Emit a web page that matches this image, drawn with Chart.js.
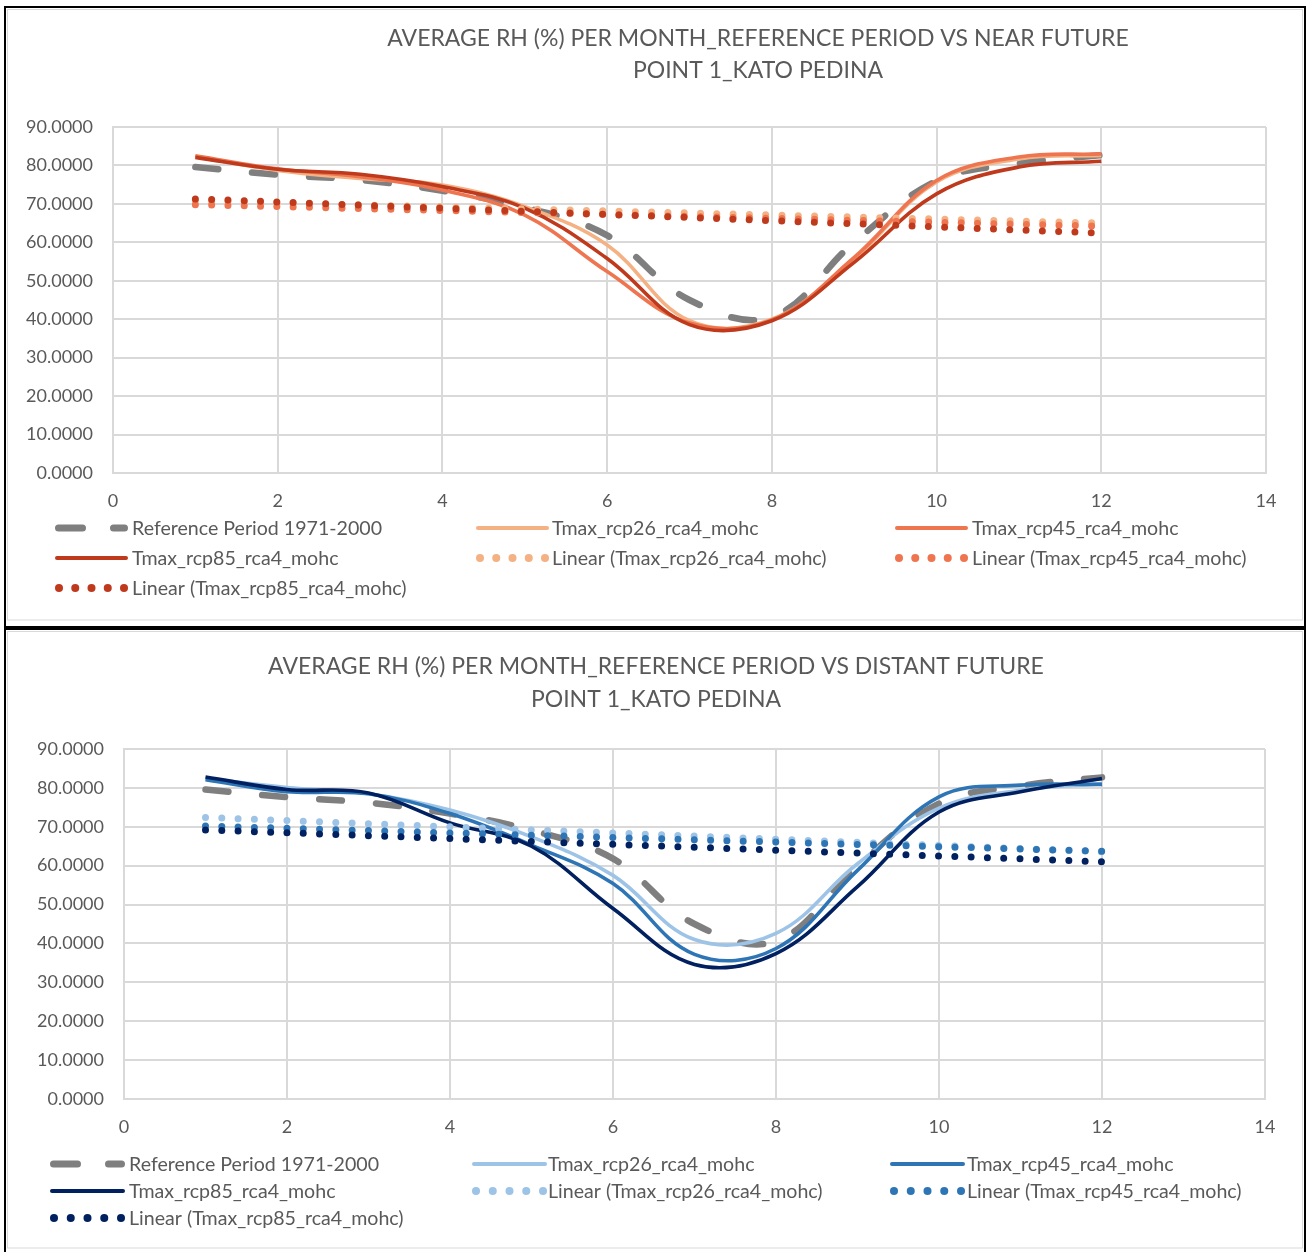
<!DOCTYPE html>
<html>
<head>
<meta charset="utf-8">
<title>Average RH per month - Point 1 Kato Pedina</title>
<script src="https://cdn.jsdelivr.net/npm/chart.js@4.4.1/dist/chart.umd.min.js"></script>
<style>
  html, body { margin: 0; padding: 0; background: #ffffff; }
  #page { position: relative; width: 1307px; height: 1252px; overflow: hidden; }
  .panel { position: absolute; left: 4px; width: 1298px; border: 2px solid #000; }
  #panelNear { top: 6px; height: 618px; }
  #panelDistant { top: 628px; height: 624px; }
  canvas { position: absolute; left: 0; top: 0; }
</style>
</head>
<body>
<div id="page">
  <div class="panel" id="panelNear"><canvas id="nearChart" width="1298" height="614"></canvas></div>
  <div class="panel" id="panelDistant"><canvas id="distantChart" width="1298" height="620"></canvas></div>
</div>
<script>
// ---- data: average relative humidity (%) per month ----
const months = [1, 2, 3, 4, 5, 6, 7, 8, 9, 10, 11, 12];
const referenceRH = [79.6, 77.6, 76.2, 73.4, 69.1, 61.8, 45.0, 40.6, 60.0, 76.0, 80.5, 82.7];

const nearRcp26 = [82.3, 78.7, 76.6, 74.9, 69.3, 59.3, 39.6, 40.0, 55.8, 75.7, 81.7, 82.6];
const nearRcp45 = [82.5, 79.1, 77.1, 73.6, 67.1, 52.4, 39.0, 39.8, 56.1, 76.1, 82.2, 83.0];
const nearRcp85 = [82.1, 79.0, 77.7, 74.5, 68.9, 55.8, 38.6, 39.6, 54.8, 72.6, 79.6, 81.1];

const distantRcp26 = [82.4, 80.1, 78.5, 74.3, 67.4, 57.5, 41.0, 42.6, 60.5, 74.8, 79.4, 81.1];
const distantRcp45 = [82.1, 79.0, 78.5, 73.4, 65.3, 55.4, 37.2, 38.7, 58.8, 77.7, 80.7, 80.9];
const distantRcp85 = [82.8, 79.6, 78.7, 71.0, 65.0, 49.0, 34.6, 37.4, 54.6, 73.8, 79.0, 82.4];

// linear trend lines: value at the first and the last month
const trendMonths = [1, 12];
const nearTrend26 = [70.8, 65.0];
const nearTrend45 = [69.8, 64.2];
const nearTrend85 = [71.3, 62.4];
const distantTrend26 = [72.4, 63.6];
const distantTrend45 = [70.2, 63.7];
const distantTrend85 = [69.2, 61.0];

// axis ticks
const xTickValues = [0, 2, 4, 6, 8, 10, 12, 14];
const yTickValues = [0, 10, 20, 30, 40, 50, 60, 70, 80, 90];

// labels
const seriesNames = [
  'Reference Period 1971-2000',
  'Tmax_rcp26_rca4_mohc',
  'Tmax_rcp45_rca4_mohc',
  'Tmax_rcp85_rca4_mohc',
  'Linear (Tmax_rcp26_rca4_mohc)',
  'Linear (Tmax_rcp45_rca4_mohc)',
  'Linear (Tmax_rcp85_rca4_mohc)'
];
const nearTitle = ['AVERAGE RH (%) PER MONTH_REFERENCE PERIOD VS NEAR FUTURE', 'POINT 1_KATO PEDINA'];
const distantTitle = ['AVERAGE RH (%) PER MONTH_REFERENCE PERIOD VS DISTANT FUTURE', 'POINT 1_KATO PEDINA'];

// ---- helpers ----
const TEXT = '#595959';
const GRID = '#d9d9d9';
const FONT = 'Lato, "Open Sans", sans-serif';

const toPoints = (xs, ys) => xs.map((x, i) => ({ x: x, y: ys[i] }));

function curve(label, values, color, order) {
  return { label, data: toPoints(months, values), borderColor: color, backgroundColor: color,
    borderWidth: 3.6, tension: 0.38, pointRadius: 0, fill: false, order, kind: 'solid' };
}
function referenceCurve(order) {
  return { label: seriesNames[0], data: toPoints(months, referenceRH), borderColor: '#7f7f7f',
    backgroundColor: '#7f7f7f', borderWidth: 6.5, borderDash: [23, 34], borderCapStyle: 'round',
    tension: 0.38, pointRadius: 0, fill: false, order, kind: 'dash' };
}
function trend(label, values, color, order) {
  return { label, data: toPoints(trendMonths, values), borderColor: color, backgroundColor: color,
    borderWidth: 7, borderDash: [0, 16.3], borderCapStyle: 'round', tension: 0, pointRadius: 0,
    fill: false, order, kind: 'dots' };
}

// draws the chart frame, the two-line title and the three-column legend
const panelDecor = {
  id: 'panelDecor',
  afterDraw(chart, args, o) {
    const ctx = chart.ctx;
    ctx.save();
    ctx.strokeStyle = GRID;
    ctx.lineWidth = 1;
    ctx.strokeRect(1.5, 1.5, chart.width - 3, o.frameBottom - 1.5);

    ctx.fillStyle = TEXT;
    ctx.font = '23px ' + FONT;
    ctx.textAlign = 'center';
    ctx.textBaseline = 'middle';
    o.title.forEach((line, i) => ctx.fillText(line, o.titleX, o.titleY[i]));

    ctx.font = '19.6px ' + FONT;
    ctx.textAlign = 'left';
    chart.data.datasets.forEach((ds, i) => {
      const col = i % 3, row = Math.floor(i / 3);
      const x0 = o.symbolX[col], x1 = x0 + o.symbolW, y = o.rowY[row];
      ctx.strokeStyle = ds.borderColor;
      ctx.fillStyle = ds.borderColor;
      if (ds.kind === 'solid') {
        ctx.lineWidth = 4; ctx.lineCap = 'round'; ctx.setLineDash([]);
        ctx.beginPath(); ctx.moveTo(x0 + 2, y); ctx.lineTo(x1 - 2, y); ctx.stroke();
      } else if (ds.kind === 'dash') {
        ctx.lineWidth = 7; ctx.lineCap = 'round'; ctx.setLineDash([24, 31]);
        ctx.beginPath(); ctx.moveTo(x0 + 3.5, y); ctx.lineTo(x1 - 3.5, y); ctx.stroke();
      } else {
        for (let k = 0; k < 5; k++) {
          ctx.beginPath();
          ctx.arc(x0 + 4 + k * (o.symbolW - 8) / 4, y, 4, 0, Math.PI * 2);
          ctx.fill();
        }
      }
      ctx.setLineDash([]);
      ctx.fillStyle = TEXT;
      ctx.fillText(ds.label, o.textX[col], y + 1);
    });
    ctx.restore();
  }
};

function buildChart(canvasId, datasets, layout, decor) {
  return new Chart(document.getElementById(canvasId), {
    type: 'line',
    data: { datasets },
    options: {
      responsive: false,
      animation: false,
      events: [],
      layout: { padding: layout.padding },
      plugins: { legend: { display: false }, title: { display: false }, tooltip: { enabled: false },
                 panelDecor: decor },
      scales: {
        x: {
          type: 'linear', min: 0, max: 14,
          afterBuildTicks: s => { s.ticks = xTickValues.map(v => ({ value: v })); },
          afterFit: s => { s.height = 40; },
          grid: { color: GRID, lineWidth: 2, drawTicks: false },
          border: { color: GRID, width: 2 },
          ticks: { color: TEXT, font: { family: FONT, size: 18 }, padding: 17, maxRotation: 0,
                   autoSkip: false, callback: v => String(v) }
        },
        y: {
          type: 'linear', min: 0, max: 90,
          afterBuildTicks: s => { s.ticks = yTickValues.map(v => ({ value: v })); },
          afterFit: s => { s.width = layout.yAxisWidth; },
          grid: { color: GRID, lineWidth: 2, drawTicks: false },
          border: { color: GRID, width: 2 },
          ticks: { color: TEXT, font: { family: FONT, size: 18 }, padding: 20,
                   callback: v => Number(v).toFixed(4) }
        }
      }
    },
    plugins: [panelDecor]
  });
}

// near future chart, warm palette
buildChart('nearChart', [
  referenceCurve(7),
  curve(seriesNames[1], nearRcp26, '#f4b183', 6),
  curve(seriesNames[2], nearRcp45, '#ee7550', 5),
  curve(seriesNames[3], nearRcp85, '#bf3a1c', 4),
  trend(seriesNames[4], nearTrend26, '#f4b183', 3),
  trend(seriesNames[5], nearTrend45, '#ee7550', 2),
  trend(seriesNames[6], nearTrend85, '#bf3a1c', 1)
], { padding: { left: 0, right: 38, top: 119, bottom: 109 }, yAxisWidth: 107 }, {
  title: nearTitle, titleX: 752, titleY: [31, 63], frameBottom: 612,
  rowY: [520, 550, 580], symbolX: [49, 470, 889], symbolW: 73, textX: [126, 546, 966]
});

// distant future chart, blue palette
buildChart('distantChart', [
  referenceCurve(7),
  curve(seriesNames[1], distantRcp26, '#9dc3e6', 6),
  curve(seriesNames[2], distantRcp45, '#2e75b6', 5),
  curve(seriesNames[3], distantRcp85, '#002060', 4),
  trend(seriesNames[4], distantTrend26, '#9dc3e6', 3),
  trend(seriesNames[5], distantTrend45, '#2e75b6', 2),
  trend(seriesNames[6], distantTrend85, '#002060', 1)
], { padding: { left: 0, right: 39, top: 119, bottom: 111 }, yAxisWidth: 118 }, {
  title: distantTitle, titleX: 650, titleY: [37, 70], frameBottom: 618,
  rowY: [534, 561, 588], symbolX: [44, 466, 884], symbolW: 75, textX: [123, 542, 961]
});
</script>
</body>
</html>
